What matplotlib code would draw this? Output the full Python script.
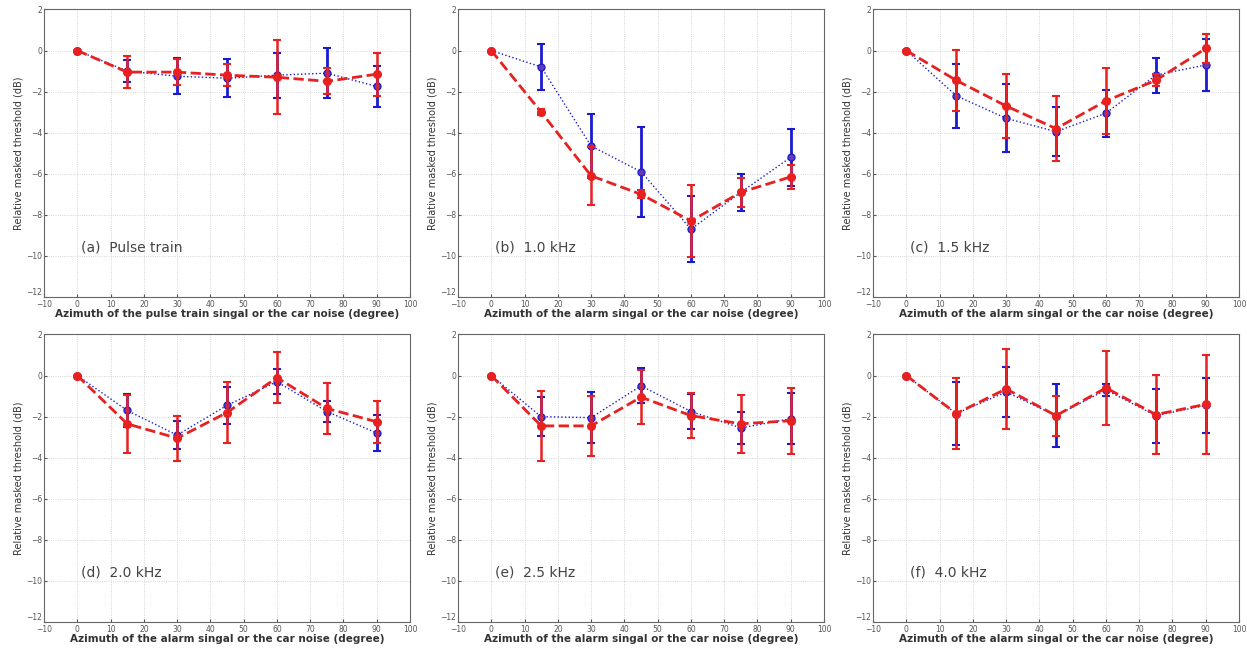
import numpy as np
import matplotlib.pyplot as plt

# ============================
# DATOS
# ============================
azimuth = [0, 15, 30, 45, 60, 75, 90]

panel_labels = ["(a)  Pulse train", "(b)  1.0 kHz", "(c)  1.5 kHz",
                "(d)  2.0 kHz", "(e)  2.5 kHz", "(f)  4.0 kHz"]

xlabels = ["Azimuth of the pulse train singal or the car noise (degree)"] + \
          ["Azimuth of the alarm singal or the car noise (degree)"] * 5

# serie azul (punteada)
blue_mean = [
    [0, -1.0, -1.25, -1.35, -1.2, -1.1, -1.75],
    [0, -0.8, -4.65, -5.9, -8.7, -6.9, -5.2],
    [0, -2.2, -3.3, -3.95, -3.05, -1.2, -0.7],
    [0, -1.7, -2.9, -1.45, -0.3, -1.75, -2.8],
    [0, -2.0, -2.05, -0.5, -1.75, -2.55, -2.1],
    [0, -1.85, -0.8, -1.95, -0.7, -1.95, -1.45],
]
blue_err = [
    [0, 0.55, 0.88, 0.93, 1.1, 1.2, 0.98],
    [0, 1.1, 1.55, 2.2, 1.6, 0.9, 1.4],
    [0, 1.55, 1.65, 1.2, 1.15, 0.85, 1.25],
    [0, 0.8, 0.7, 0.9, 0.6, 0.5, 0.87],
    [0, 0.95, 1.25, 0.85, 0.85, 0.8, 1.25],
    [0, 1.52, 1.2, 1.52, 0.3, 1.32, 1.35],
]

# serie roja (discontinua)
red_mean = [
    [0, -1.05, -1.05, -1.2, -1.3, -1.5, -1.15],
    [0, -3.0, -6.1, -7.0, -8.3, -6.9, -6.15],
    [0, -1.45, -2.7, -3.8, -2.45, -1.45, 0.1],
    [0, -2.35, -3.05, -1.8, -0.1, -1.6, -2.25],
    [0, -2.45, -2.45, -1.05, -1.95, -2.35, -2.2],
    [0, -1.85, -0.65, -1.95, -0.6, -1.9, -1.4],
]
red_err = [
    [0, 0.78, 0.65, 0.55, 1.8, 0.63, 1.05],
    [0, 0.15, 1.4, 0.2, 1.75, 0.7, 0.6],
    [0, 1.5, 1.55, 1.6, 1.6, 0.3, 0.7],
    [0, 1.42, 1.1, 1.5, 1.25, 1.25, 1.02],
    [0, 1.7, 1.45, 1.3, 1.08, 1.42, 1.6],
    [0, 1.75, 1.95, 0.97, 1.8, 1.93, 2.4],
]

# ============================
# FIGURA
# ============================
fig = plt.figure(figsize=(12.47, 6.49), dpi=100)

lefts = [0.0353, 0.3673, 0.7001]
bottoms = [0.5424, 0.0416]
w, h = 0.2935, 0.443

for i in range(6):
    fila, col = divmod(i, 3)
    ax = fig.add_axes([lefts[col], bottoms[fila], w, h])

    ax.errorbar(azimuth, blue_mean[i], yerr=blue_err[i], color="#1a1ad0",
                linestyle=":", linewidth=1.0, elinewidth=2.0, capsize=3,
                capthick=1.5, marker="o", markersize=5,
                markerfacecolor="#6a3aa8", markeredgecolor="#2020d0", zorder=2)
    ax.errorbar(azimuth, red_mean[i], yerr=red_err[i], color="#e82020",
                linestyle="--", linewidth=2.0, elinewidth=1.8, capsize=3,
                capthick=1.5, marker="o", markersize=5.5,
                markerfacecolor="#e82020", markeredgecolor="#e82020", zorder=3)

    ax.set_xlim(-10, 100)
    ax.set_ylim(-12, 2)
    ax.set_xticks(np.arange(-10, 101, 10))
    ax.set_yticks(np.arange(-12, 3, 2))
    ax.grid(True, linestyle=":", color="#c8c8c8", linewidth=0.6)
    ax.tick_params(labelsize=5.5, colors="#555555", direction="in",
                   length=2, pad=1.5)
    ax.tick_params(axis="x", pad=2.5)
    # la etiqueta -12 queda un poco por encima de la esquina, como en el original
    ax.get_yticklabels()[0].set_va("bottom")
    for s in ax.spines.values():
        s.set_color("#666666")
        s.set_linewidth(0.8)

    ax.set_xlabel(xlabels[i], fontsize=7.5, fontweight="bold",
                  color="#333333", labelpad=0)
    ax.set_ylabel("Relative masked threshold (dB)", fontsize=7,
                  color="#333333", labelpad=2)
    ax.text(1, -9.6, panel_labels[i], fontsize=10, color="#444444",
            va="center", ha="left")

plt.savefig("out.png", dpi=100)
